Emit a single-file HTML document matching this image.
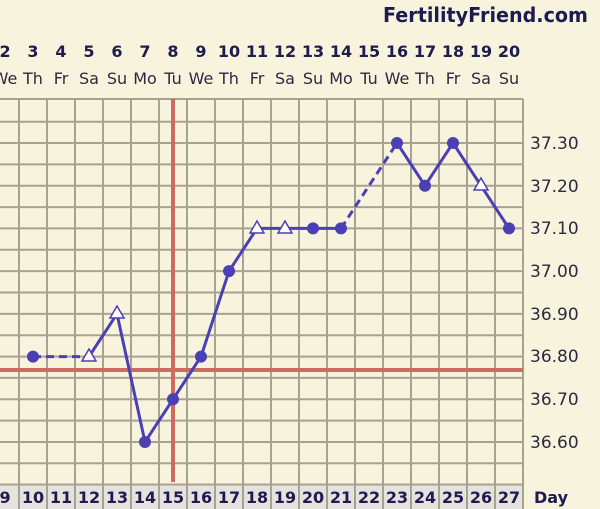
<!DOCTYPE html>
<html><head><meta charset="utf-8"><style>
html,body{margin:0;padding:0;background:#f8f3dc;}
svg{display:block;font-family:"DejaVu Sans","Liberation Sans",sans-serif;}
</style></head><body>
<svg width="600" height="509" viewBox="0 0 600 509" xmlns="http://www.w3.org/2000/svg">
<rect width="600" height="509" fill="#f8f3dc"/>
<text x="588" y="22" text-anchor="end" font-size="20" font-weight="bold" fill="#1e1b50" textLength="205" lengthAdjust="spacingAndGlyphs">FertilityFriend.com</text>
<g font-size="16" font-weight="bold" fill="#1e1b50" text-anchor="middle">
<text x="5" y="57">2</text><text x="33" y="57">3</text><text x="61" y="57">4</text><text x="89" y="57">5</text><text x="117" y="57">6</text><text x="145" y="57">7</text><text x="173" y="57">8</text><text x="201" y="57">9</text><text x="229" y="57">10</text><text x="257" y="57">11</text><text x="285" y="57">12</text><text x="313" y="57">13</text><text x="341" y="57">14</text><text x="369" y="57">15</text><text x="397" y="57">16</text><text x="425" y="57">17</text><text x="453" y="57">18</text><text x="481" y="57">19</text><text x="509" y="57">20</text>
</g>
<g font-size="16" fill="#2a2a40" text-anchor="middle">
<text x="5" y="84">We</text><text x="33" y="84">Th</text><text x="61" y="84">Fr</text><text x="89" y="84">Sa</text><text x="117" y="84">Su</text><text x="145" y="84">Mo</text><text x="173" y="84">Tu</text><text x="201" y="84">We</text><text x="229" y="84">Th</text><text x="257" y="84">Fr</text><text x="285" y="84">Sa</text><text x="313" y="84">Su</text><text x="341" y="84">Mo</text><text x="369" y="84">Tu</text><text x="397" y="84">We</text><text x="425" y="84">Th</text><text x="453" y="84">Fr</text><text x="481" y="84">Sa</text><text x="509" y="84">Su</text>
</g>
<rect x="0" y="484" width="523" height="25" fill="#e6e3df"/>
<g stroke="#a7a292" stroke-width="2">
<line x1="0" y1="99" x2="523" y2="99"/><line x1="0" y1="121.7" x2="523" y2="121.7"/><line x1="0" y1="143" x2="523" y2="143"/><line x1="0" y1="164.4" x2="523" y2="164.4"/><line x1="0" y1="185.7" x2="523" y2="185.7"/><line x1="0" y1="207.1" x2="523" y2="207.1"/><line x1="0" y1="228.4" x2="523" y2="228.4"/><line x1="0" y1="249.8" x2="523" y2="249.8"/><line x1="0" y1="271.1" x2="523" y2="271.1"/><line x1="0" y1="292.5" x2="523" y2="292.5"/><line x1="0" y1="313.9" x2="523" y2="313.9"/><line x1="0" y1="335.2" x2="523" y2="335.2"/><line x1="0" y1="356.6" x2="523" y2="356.6"/><line x1="0" y1="377.9" x2="523" y2="377.9"/><line x1="0" y1="399.3" x2="523" y2="399.3"/><line x1="0" y1="420.6" x2="523" y2="420.6"/><line x1="0" y1="442" x2="523" y2="442"/><line x1="0" y1="463.3" x2="523" y2="463.3"/><line x1="0" y1="484.5" x2="523" y2="484.5"/>
<line x1="19" y1="99" x2="19" y2="509"/><line x1="47" y1="99" x2="47" y2="509"/><line x1="75" y1="99" x2="75" y2="509"/><line x1="103" y1="99" x2="103" y2="509"/><line x1="131" y1="99" x2="131" y2="509"/><line x1="159" y1="99" x2="159" y2="509"/><line x1="187" y1="99" x2="187" y2="509"/><line x1="215" y1="99" x2="215" y2="509"/><line x1="243" y1="99" x2="243" y2="509"/><line x1="271" y1="99" x2="271" y2="509"/><line x1="299" y1="99" x2="299" y2="509"/><line x1="327" y1="99" x2="327" y2="509"/><line x1="355" y1="99" x2="355" y2="509"/><line x1="383" y1="99" x2="383" y2="509"/><line x1="411" y1="99" x2="411" y2="509"/><line x1="439" y1="99" x2="439" y2="509"/><line x1="467" y1="99" x2="467" y2="509"/><line x1="495" y1="99" x2="495" y2="509"/><line x1="523" y1="99" x2="523" y2="509"/>
</g>
<g stroke="#cf6a63" stroke-width="4">
<line x1="0" y1="370" x2="523" y2="370"/>
<line x1="173" y1="99" x2="173" y2="482"/>
</g>
<g font-size="17" fill="#2a2a40">
<text x="530" y="149">37.30</text><text x="530" y="192">37.20</text><text x="530" y="234">37.10</text><text x="530" y="277">37.00</text><text x="530" y="320">36.90</text><text x="530" y="362">36.80</text><text x="530" y="405">36.70</text><text x="530" y="448">36.60</text>
</g>
<g font-size="16" font-weight="bold" fill="#1e1b50" text-anchor="middle">
<text x="5" y="503">9</text><text x="33" y="503">10</text><text x="61" y="503">11</text><text x="89" y="503">12</text><text x="117" y="503">13</text><text x="145" y="503">14</text><text x="173" y="503">15</text><text x="201" y="503">16</text><text x="229" y="503">17</text><text x="257" y="503">18</text><text x="285" y="503">19</text><text x="313" y="503">20</text><text x="341" y="503">21</text><text x="369" y="503">22</text><text x="397" y="503">23</text><text x="425" y="503">24</text><text x="453" y="503">25</text><text x="481" y="503">26</text><text x="509" y="503">27</text>
<text x="551" y="503">Day</text>
</g>
<g stroke="#4b3fb5" stroke-width="3" fill="none">
<line x1="33" y1="356.6" x2="89" y2="356.6" stroke-dasharray="8,5"/>
<line x1="341" y1="228.4" x2="397" y2="143" stroke-dasharray="8,5"/>
<polyline points="89,356.6 117,313.9 145,442 173,399.3 201,356.6 229,271.1 257,228.4 285,228.4 313,228.4 341,228.4"/>
<polyline points="397,143 425,185.7 453,143 481,185.7 509,228.4"/>
</g>
<g fill="#4b3fb5">
<circle cx="33" cy="356.6" r="6"/><circle cx="145" cy="442" r="6"/><circle cx="173" cy="399.3" r="6"/><circle cx="201" cy="356.6" r="6"/><circle cx="229" cy="271.1" r="6"/><circle cx="313" cy="228.4" r="6"/><circle cx="341" cy="228.4" r="6"/><circle cx="397" cy="143" r="6"/><circle cx="425" cy="185.7" r="6"/><circle cx="453" cy="143" r="6"/><circle cx="509" cy="228.4" r="6"/>
</g>
<g fill="#ffffff" stroke="#4b3fb5" stroke-width="1.5">
<polygon points="89,349 96,361 82,361"/><polygon points="117,306 124,318 110,318"/><polygon points="257,221 264,233 250,233"/><polygon points="285,221 292,233 278,233"/><polygon points="481,178 488,190 474,190"/>
</g>
</svg>
</body></html>
